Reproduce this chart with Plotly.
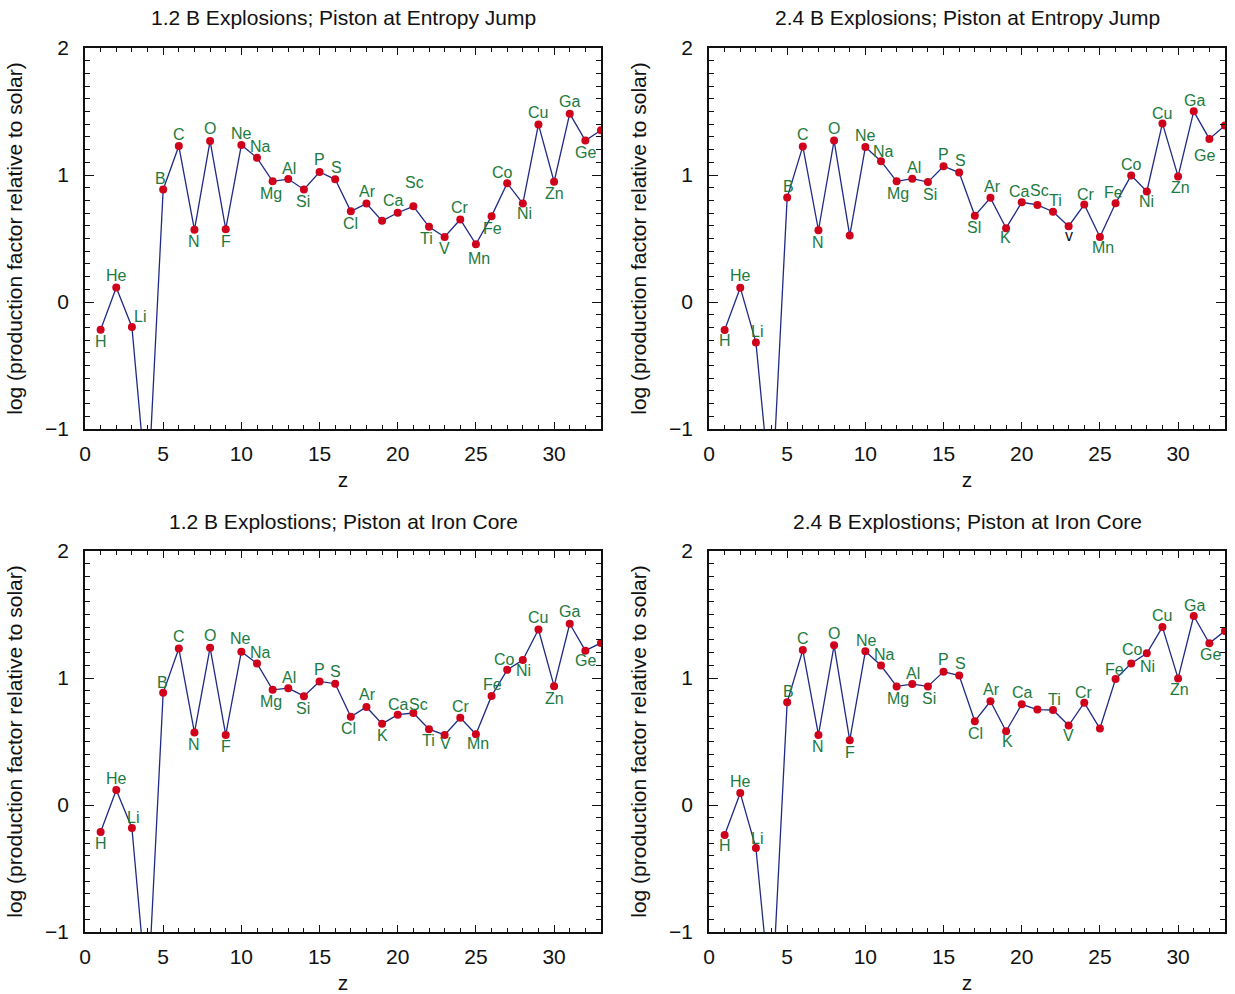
import plotly.graph_objects as go

z = list(range(1, 34))
symbols = ["H", "He", "Li", "Be", "B", "C", "N", "O", "F", "Ne", "Na", "Mg", "Al", "Si",
           "P", "S", "Cl", "Ar", "K", "Ca", "Sc", "Ti", "V", "Cr", "Mn", "Fe", "Co", "Ni",
           "Cu", "Zn", "Ga", "Ge", "As"]

titles = ["1.2 B Explosions; Piston at Entropy Jump",
          "2.4 B Explosions; Piston at Entropy Jump",
          "1.2 B Explostions; Piston at Iron Core",
          "2.4 B Explostions; Piston at Iron Core"]

y_12_entropy = [-0.218, 0.115, -0.197, -1.56, 0.886, 1.228, 0.568, 1.268, 0.573, 1.236,
                1.135, 0.950, 0.968, 0.886, 1.024, 0.966, 0.714, 0.775, 0.639, 0.703,
                0.753, 0.592, 0.512, 0.650, 0.454, 0.676, 0.936, 0.775, 1.398, 0.947,
                1.483, 1.271, 1.353]
y_24_entropy = [-0.220, 0.113, -0.318, -1.60, 0.822, 1.225, 0.565, 1.271, 0.523, 1.220,
                1.109, 0.950, 0.971, 0.944, 1.069, 1.019, 0.679, 0.820, 0.581, 0.785,
                0.764, 0.711, 0.597, 0.767, 0.512, 0.777, 0.997, 0.870, 1.406, 0.989,
                1.501, 1.284, 1.390]
y_12_iron = [-0.213, 0.118, -0.181, -1.56, 0.883, 1.233, 0.570, 1.239, 0.552, 1.207,
             1.114, 0.907, 0.920, 0.857, 0.973, 0.955, 0.695, 0.772, 0.639, 0.711,
             0.724, 0.597, 0.552, 0.687, 0.557, 0.859, 1.064, 1.141, 1.382, 0.936,
             1.427, 1.215, 1.276]
y_24_iron = [-0.236, 0.094, -0.339, -1.60, 0.809, 1.220, 0.552, 1.257, 0.509, 1.210,
             1.098, 0.934, 0.952, 0.934, 1.050, 1.019, 0.660, 0.817, 0.581, 0.793,
             0.751, 0.748, 0.626, 0.806, 0.602, 0.992, 1.114, 1.194, 1.401, 0.997,
             1.488, 1.273, 1.371]

series = [y_12_entropy, y_24_entropy, y_12_iron, y_24_iron]

# label texts shown in each panel (None = no label)
labels_1 = list(symbols); labels_1[3] = None; labels_1[18] = None; labels_1[32] = None
labels_2 = list(symbols); labels_2[3] = None; labels_2[8] = None; labels_2[16] = "Sl"; labels_2[22] = "v"; labels_2[32] = None
labels_3 = list(symbols); labels_3[3] = None; labels_3[32] = None
labels_4 = list(symbols); labels_4[3] = None; labels_4[20] = None; labels_4[24] = None; labels_4[32] = None
labels = [labels_1, labels_2, labels_3, labels_4]

# label placement (style): (dx px, dy px, positive dy = up)
A, B_ = 12, -12
place_1 = [(0, B_), (0, A), (8, 11), None, (-3, 11), (0, A), (0, B_), (0, A), (0, B_), (0, A),
           (3, 11), (-2, B_), (1, 11), (-1, B_), (0, A), (1, A), (0, B_), (1, A), None, (-4, 12),
           (1, 24), (-3, B_), (0, B_), (0, A), (3, -14), (1, B_), (-5, 11), (2, -10), (0, A), (0, B_),
           (0, A), (0, B_), None]
place_2 = [(0, -11), (0, A), (1, 11), None, (1, 11), (0, A), (0, B_), (0, A), None, (0, A),
           (2, 10), (1, B_), (2, 11), (2, B_), (0, A), (1, 12), (-1, B_), (2, 11), (-1, -9), (-2, 11),
           (2, 14), (2, 11), (0, -9), (2, 10), (3, -11), (-2, 11), (0, 11), (0, -10), (0, 10), (2, -11),
           (1, 11), (-5, -17), None]
place_3 = [(0, -11), (0, A), (1, 10), None, (-1, 10), (0, A), (0, B_), (0, A), (0, B_), (-1, 13),
           (3, 11), (-2, B_), (1, 11), (-1, B_), (0, A), (0, A), (-2, B_), (1, A), (0, B_), (1, 10),
           (5, 9), (-1, -11), (1, -9), (1, 11), (2, -9), (1, 11), (-3, 10), (1, -10), (0, A), (0, B_),
           (0, A), (0, -10), None]
place_4 = [(0, -11), (0, A), (1, 10), None, (1, 11), (0, A), (0, B_), (0, A), (0, B_), (1, 11),
           (3, 11), (1, B_), (1, 11), (1, B_), (0, A), (1, 12), (1, B_), (1, 12), (1, -10), (1, 12),
           None, (1, 11), (0, -10), (0, 10), None, (-1, 10), (1, 14), (1, -13), (0, 12), (1, -11),
           (1, 11), (1, -11), None]
places = [place_1, place_2, place_3, place_4]

LINE = "#1f2a85"
MARK = "#d0021b"
GREEN = "#1d7a40"
FONT = "Liberation Sans, Arial, sans-serif"

W, H = 1235, 994
xdom = [(85 / W, 601 / W), (709 / W, 1225 / W)]
ydom = [(1 - 429 / H, 1 - 48 / H), (1 - 932 / H, 1 - 551 / H)]

fig = go.Figure()
annotations = []
layout = {}
for i in range(4):
    row, col = divmod(i, 2)
    n = "" if i == 0 else str(i + 1)
    xa, ya = "x" + n, "y" + n
    fig.add_trace(go.Scatter(
        x=z, y=series[i], mode="lines+markers", xaxis=xa, yaxis=ya,
        line=dict(color=LINE, width=1.3),
        marker=dict(color=MARK, size=8), showlegend=False, cliponaxis=True))
    axis_common = dict(showgrid=False, zeroline=False, showline=True, linecolor="#111",
                       linewidth=1.6, mirror="allticks", ticks="inside", tickcolor="#111",
                       tickwidth=1.4, tickfont=dict(family=FONT, size=21, color="#111"))
    layout["xaxis" + n] = dict(axis_common, domain=xdom[col], anchor=ya, range=[0, 33],
                                tick0=0, dtick=5, ticklen=7, ticklabelstandoff=5,
                                minor=dict(dtick=1, ticklen=4, ticks="inside", tickcolor="#111", tickwidth=1.2),
                                title=dict(text="z", font=dict(family=FONT, size=21, color="#111"), standoff=8))
    layout["yaxis" + n] = dict(axis_common, domain=ydom[row], anchor=xa, range=[-1, 2],
                                tick0=0, dtick=1, ticklen=9, ticklabelstandoff=10,
                                minor=dict(dtick=0.1, ticklen=5, ticks="inside", tickcolor="#111", tickwidth=1.2),
                                title=dict(text="log (production factor relative to solar)",
                                           font=dict(family=FONT, size=21, color="#111"), standoff=17))
    # panel title
    annotations.append(dict(text=titles[i], xref="paper", yref="paper",
                            x=(xdom[col][0] + xdom[col][1]) / 2, y=ydom[row][1],
                            yshift=30, showarrow=False, xanchor="center", yanchor="middle",
                            font=dict(family=FONT, size=21, color="#111")))
    for k in range(33):
        t = labels[i][k]
        p = places[i][k]
        if t is None or p is None:
            continue
        annotations.append(dict(text=t, x=z[k], y=series[i][k], xref=xa, yref=ya,
                                showarrow=False, xanchor="center", yanchor="middle",
                                xshift=p[0], yshift=p[1],
                                font=dict(family=FONT, size=16,
                                          color="#111" if t == "v" else GREEN)))

fig.update_layout(**layout)
fig.update_layout(width=W, height=H, margin=dict(l=0, r=0, t=0, b=0, autoexpand=False),
                  plot_bgcolor="white", paper_bgcolor="white",
                  annotations=annotations, showlegend=False)
fig.write_html("out.html", config={"displayModeBar": False},
               post_script="document.body.style.margin='0';document.body.style.overflow='hidden';")
